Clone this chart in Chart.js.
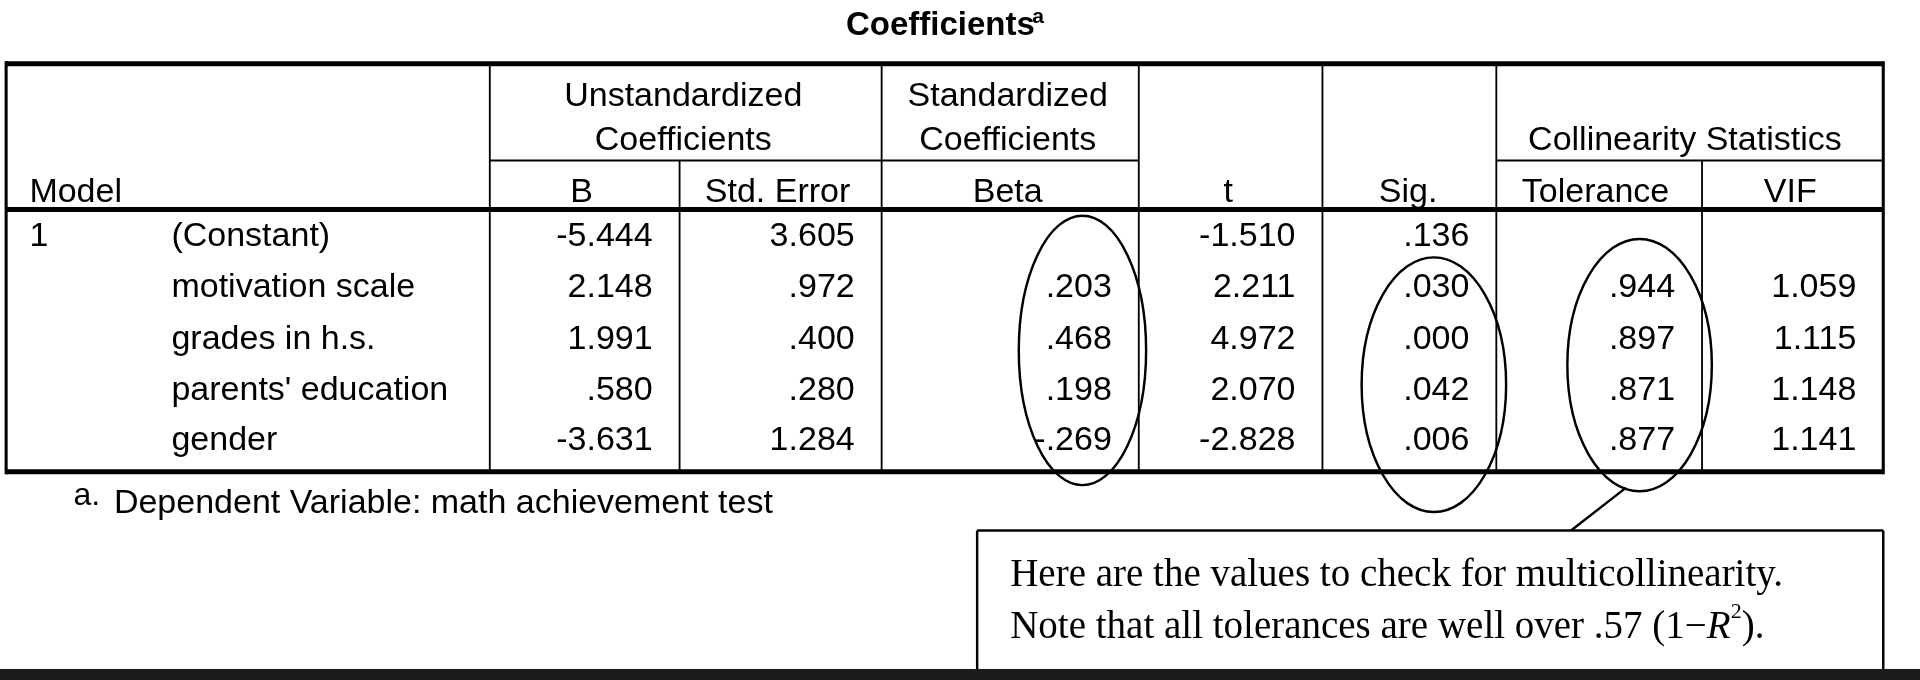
<!DOCTYPE html>
<html>
<head>
<meta charset="utf-8">
<script src="https://cdn.jsdelivr.net/npm/chart.js@4"></script>
<style>
  html, body { margin: 0; padding: 0; background: #fff; }
  canvas { display: block; }
</style>
</head>
<body>
<canvas id="coefChart" width="1920" height="680"></canvas>
<script>
// table contents
const predictors = ['(Constant)', 'motivation scale', 'grades in h.s.', "parents' education", 'gender'];
const bValues = ['-5.444', '2.148', '1.991', '.580', '-3.631'];
const stdErrors = ['3.605', '.972', '.400', '.280', '1.284'];
const betas = ['', '.203', '.468', '.198', '-.269'];
const tValues = ['-1.510', '2.211', '4.972', '2.070', '-2.828'];
const sigValues = ['.136', '.030', '.000', '.042', '.006'];
const tolerances = ['', '.944', '.897', '.871', '.877'];
const vifValues = ['', '1.059', '1.115', '1.148', '1.141'];

// layout in reference units (x 0..1568, y 0..555, y down)
const colEdges = [5, 400, 555, 720, 930, 1080, 1222, 1390, 1538];
const rowY = [193, 235, 277, 319, 360];

const tablePlugin = {
    id: 'tablePlugin',
    afterDraw(chart) {
        const ctx = chart.ctx;
        const sx = chart.scales.x, sy = chart.scales.y;
        const X = v => sx.getPixelForValue(v);
        const Y = v => sy.getPixelForValue(v);
        const k = X(1) - X(0);
        const font = 'Liberation Sans, Arial, sans-serif';

        const line = (x1, y1, x2, y2, w) => {
            ctx.beginPath();
            ctx.lineWidth = w * k;
            ctx.strokeStyle = '#000';
            ctx.moveTo(X(x1), Y(y1));
            ctx.lineTo(X(x2), Y(y2));
            ctx.stroke();
        };
        const text = (s, x, y, align, size, f, weight) => {
            ctx.fillStyle = '#000';
            ctx.font = (weight || '') + ' ' + Math.round(size * k) + 'px ' + (f || font);
            ctx.textAlign = align;
            ctx.textBaseline = 'middle';
            ctx.fillText(s, X(x), Y(y));
        };

        ctx.save();
        // title
        text('Coefficients', 768, 21, 'center', 27, null, 'bold');
        text('a', 843, 14, 'left', 17, null, 'bold');

        // frame
        line(5, 52, 1538, 52, 4);
        line(5, 171, 1538, 171, 4);
        line(5, 385, 1538, 385, 4);
        line(5, 50, 5, 387, 2.5);
        line(1538, 50, 1538, 387, 2.5);
        line(400, 52, 400, 385, 1.5);
        line(555, 131, 555, 385, 1.5);
        line(720, 52, 720, 385, 1.5);
        line(930, 52, 930, 385, 1.5);
        line(1080, 52, 1080, 385, 1.5);
        line(1222, 52, 1222, 385, 1.5);
        line(1390, 131, 1390, 385, 1.5);
        line(400, 131, 930, 131, 1.5);
        line(1222, 131, 1538, 131, 1.5);

        // headers
        const hs = 28;
        text('Unstandardized', 558, 79, 'center', hs);
        text('Coefficients', 558, 115, 'center', hs);
        text('Standardized', 823, 79, 'center', hs);
        text('Coefficients', 823, 115, 'center', hs);
        text('Collinearity Statistics', 1376, 115, 'center', hs);
        text('Model', 24, 157, 'left', hs);
        text('B', 475, 157, 'center', hs);
        text('Std. Error', 635, 157, 'center', hs);
        text('Beta', 823, 157, 'center', hs);
        text('t', 1003, 157, 'center', hs);
        text('Sig.', 1150, 157, 'center', hs);
        text('Tolerance', 1303, 157, 'center', hs);
        text('VIF', 1462, 157, 'center', hs);

        // body
        text('1', 24, rowY[0], 'left', hs);
        const cols = [bValues, stdErrors, betas, tValues, sigValues, tolerances, vifValues];
        predictors.forEach((p, i) => {
            text(p, 140, rowY[i], 'left', hs);
            cols.forEach((c, j) => text(c[i], colEdges[j + 2] - 22, rowY[i], 'right', hs));
        });

        // footnote
        text('a.', 60, 405, 'left', 26);
        text('Dependent Variable: math achievement test', 93, 411, 'left', 28);

        // ellipses
        ctx.lineWidth = 2 * k;
        [[884, 286, 52, 110], [1171, 314, 59, 104], [1339, 298, 59, 103]].forEach(e => {
            ctx.beginPath();
            ctx.ellipse(X(e[0]), Y(e[1]), e[2] * k, e[3] * k, 0, 0, Math.PI * 2);
            ctx.stroke();
        });
        line(1328, 398, 1283, 433, 2);

        // annotation box
        line(798, 433, 1538, 433, 2);
        line(798, 433, 798, 548, 2);
        line(1538, 433, 1538, 548, 2);
        const serif = 'Liberation Serif, Times New Roman, serif';
        const ss = 32;
        const note2 = 'Note that all tolerances are well over .57 (1\u2212';
        text('Here are the values to check for multicollinearity.', 825, 470, 'left', ss, serif);
        text(note2, 825, 512, 'left', ss, serif);
        ctx.font = Math.round(ss * k) + 'px ' + serif;
        const w1 = ctx.measureText(note2).width;
        ctx.font = 'italic ' + Math.round(ss * k) + 'px ' + serif;
        ctx.textAlign = 'left';
        ctx.fillText('R', X(825) + w1, Y(512));
        const w2 = ctx.measureText('R').width;
        ctx.font = Math.round(18 * k) + 'px ' + serif;
        ctx.fillText('2', X(825) + w1 + w2, Y(500));
        const w3 = ctx.measureText('2').width;
        ctx.font = Math.round(ss * k) + 'px ' + serif;
        ctx.fillText(').', X(825) + w1 + w2 + w3, Y(512));

        // dark band at bottom
        ctx.fillStyle = '#1c1c1c';
        ctx.fillRect(X(0), Y(546), X(1568) - X(0), Y(555) - Y(546));
        ctx.restore();
    }
};

new Chart(document.getElementById('coefChart'), {
    type: 'scatter',
    data: { datasets: [{ data: [], pointRadius: 0 }] },
    options: {
        responsive: false,
        animation: false,
        devicePixelRatio: 1,
        layout: { padding: 0 },
        plugins: { legend: { display: false }, tooltip: { enabled: false } },
        scales: {
            x: { type: 'linear', min: 0, max: 1568, display: false },
            y: { type: 'linear', min: 0, max: 555, reverse: true, display: false }
        }
    },
    plugins: [tablePlugin]
});
</script>
</body>
</html>
